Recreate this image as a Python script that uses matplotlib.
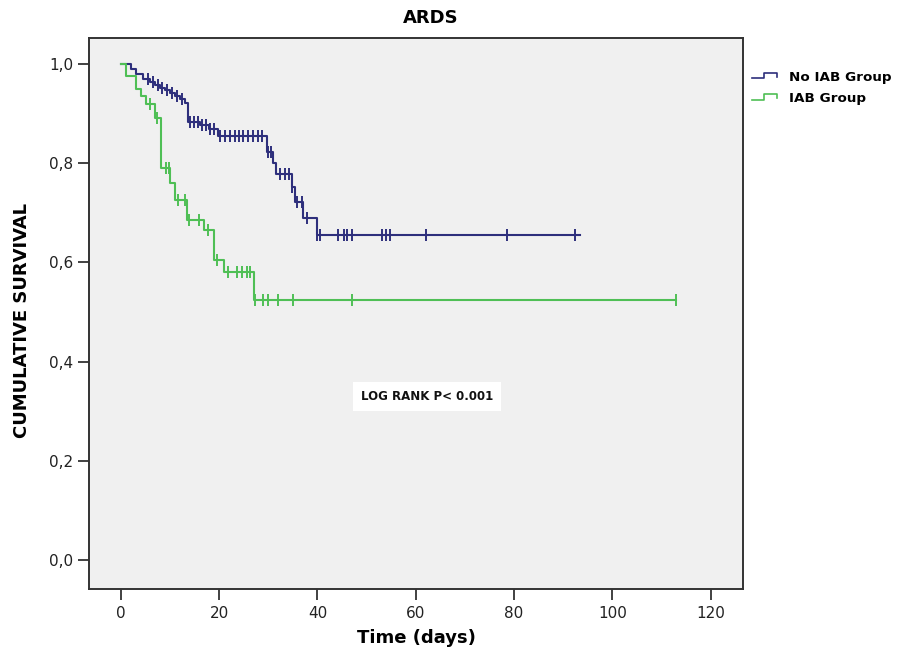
import numpy as np
import matplotlib
matplotlib.use("Agg")
import matplotlib.pyplot as plt
from matplotlib.legend_handler import HandlerBase
from matplotlib.lines import Line2D

# ---- data ----
no_iab_times = [0, 2, 3, 4.5, 6, 7, 8, 9, 10, 11, 12, 13, 13.6, 16, 18, 19.8,
                29.7, 31, 31.6, 34.8, 35.4, 37, 40]
no_iab_surv = [1.0, 0.99, 0.98, 0.97, 0.963, 0.957, 0.952, 0.947, 0.942, 0.936,
               0.929, 0.921, 0.883, 0.877, 0.869, 0.855,
               0.822, 0.80, 0.778, 0.752, 0.722, 0.69, 0.655]
no_iab_end = 93.5
no_iab_censor = [5.5, 6.5, 7.5, 8.4, 9.4, 10.4, 11.4, 12.4, 14, 14.8, 15.6, 16.5,
                 17.3, 18.2, 19, 20.2, 21.2, 22.2, 23.2, 24.1, 24.9, 25.9, 26.9,
                 27.8, 28.7, 30, 30.6, 32.4, 33.4, 34.2, 34.8, 35.8, 36.9, 37.8,
                 40, 40.6, 44.2, 45.3, 46.1, 47, 53.1, 53.9, 54.8, 62, 78.6, 92.5]

iab_times = [0, 1, 3, 4, 5, 7, 8.1, 10, 11, 13.5, 17, 19, 21, 27]
iab_surv = [1.0, 0.975, 0.95, 0.935, 0.92, 0.89, 0.79, 0.76, 0.725, 0.685,
            0.665, 0.605, 0.58, 0.525]
iab_end = 113
iab_censor = [6, 7.3, 9.2, 9.8, 11.6, 13, 13.9, 15.9, 17.7, 19.5, 21.8, 23.6,
              24.6, 25.7, 26.3, 27.3, 29, 30, 32, 35, 47, 113]

groups = ["No IAB Group", "IAB Group"]
colors = ["#2e2f7c", "#4fbf55"]

x_ticks = [0, 20, 40, 60, 80, 100, 120]
y_ticks = [0.0, 0.2, 0.4, 0.6, 0.8, 1.0]
y_tick_labels = ["0,0", "0,2", "0,4", "0,6", "0,8", "1,0"]


def step_value(times, surv, t):
    idx = np.searchsorted(np.array(times), t, side="right") - 1
    return np.array(surv)[idx]


fig = plt.figure(figsize=(9.02, 6.52), dpi=100)
fig.patch.set_facecolor("white")
ax = fig.add_axes([0.0987, 0.0966, 0.7250, 0.8450])
ax.set_facecolor("#f0f0f0")

series = [(no_iab_times, no_iab_surv, no_iab_end, no_iab_censor),
          (iab_times, iab_surv, iab_end, iab_censor)]

for (times, surv, end, cens), col, name in zip(series, colors, groups):
    xs = list(times) + [end]
    ys = list(surv) + [surv[-1]]
    ax.step(xs, ys, where="post", color=col, lw=1.5, label=name, zorder=3)
    cv = step_value(times, surv, np.array(cens))
    ax.plot(cens, cv, linestyle="none", marker="|", markersize=8,
            markeredgewidth=1.4, color=col, zorder=4)

ax.set_xlim(-6.5, 126.6)
ax.set_ylim(-0.058, 1.052)
ax.set_xticks(x_ticks)
ax.set_yticks(y_ticks)
ax.set_yticklabels(y_tick_labels)
ax.tick_params(axis="both", direction="out", length=8, width=1.3,
               color="#333333", labelsize=11, labelcolor="#222222")
ax.tick_params(axis="x", pad=4)
for sp in ax.spines.values():
    sp.set_linewidth(1.4)
    sp.set_color("#333333")

ax.set_xlabel("Time (days)", fontsize=13, fontweight="bold", labelpad=6)
ax.set_ylabel("CUMULATIVE SURVIVAL", fontsize=13, fontweight="bold")
ax.yaxis.set_label_coords(-0.088, 0.488)
fig.text(0.478, 0.972, "ARDS", ha="center", va="center", fontsize=13,
         fontweight="bold")

ax.text(62.3, 0.33, "LOG RANK P< 0.001", ha="center", va="center",
        fontsize=8.5, fontweight="bold", color="#111111",
        bbox=dict(boxstyle="square,pad=0.7", facecolor="white",
                  edgecolor="none"), zorder=5)


class StepHandler(HandlerBase):
    def create_artists(self, legend, orig_handle, xdescent, ydescent,
                       width, height, fontsize, trans):
        w = width
        h = height
        xs = [0, 0.45 * w, 0.45 * w, w * 0.9, w * 0.9]
        ys = [0.25 * h, 0.25 * h, 0.8 * h, 0.8 * h, 0.45 * h]
        ln = Line2D(xs, ys, color=orig_handle.get_color(), lw=1.2,
                    transform=trans)
        return [ln]


handles = [Line2D([], [], color=c) for c in colors]
leg = fig.legend(handles, groups, loc="upper left",
                 bbox_to_anchor=(0.82, 0.91), frameon=False,
                 handler_map={Line2D: StepHandler()},
                 prop={"weight": "bold", "size": 9.7},
                 handlelength=2.1, handletextpad=0.7, labelspacing=0.6)

fig.savefig("out.png", dpi=100, facecolor="white")
